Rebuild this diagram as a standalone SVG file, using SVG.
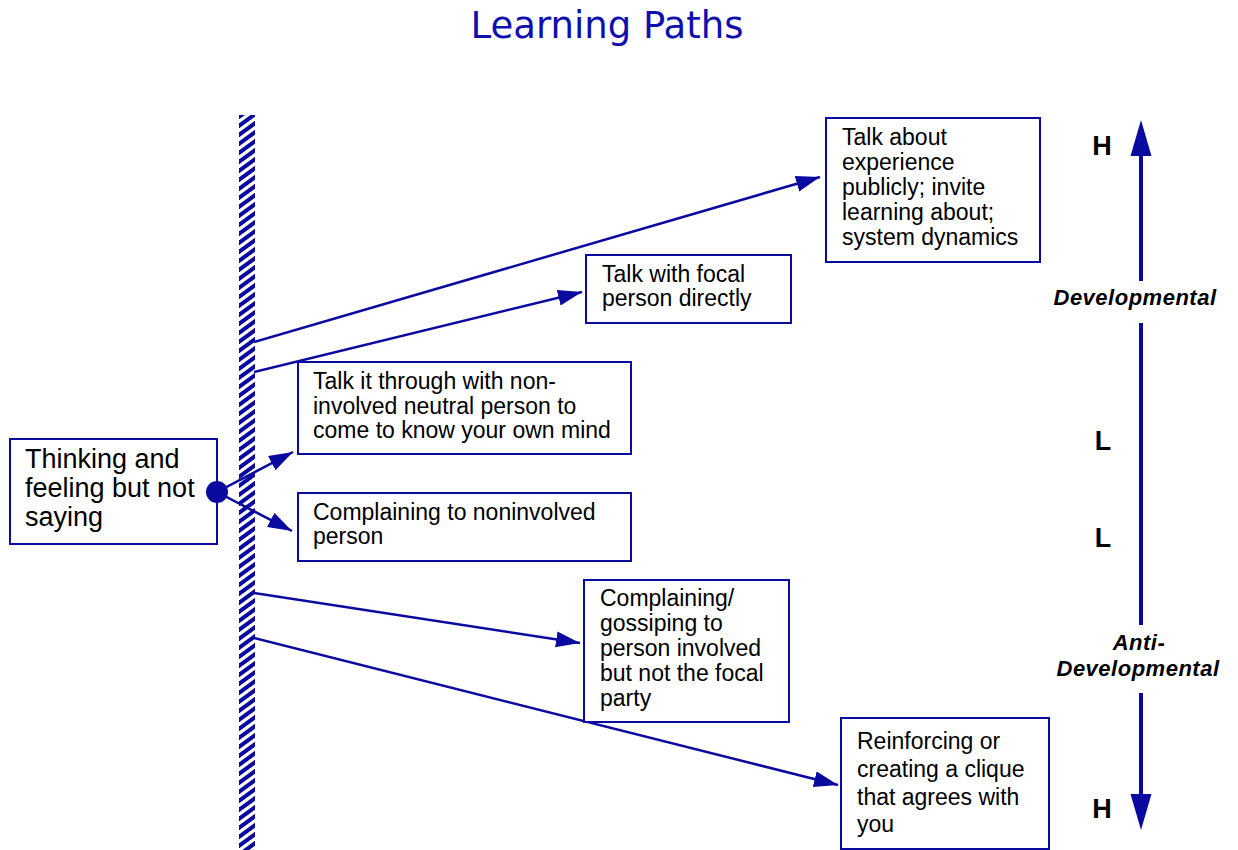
<svg xmlns="http://www.w3.org/2000/svg" width="1238" height="850" viewBox="0 0 1238 850">
<style>
.box{fill:#fff;stroke:#0a0aa0;stroke-width:2}
.t{font-family:"Liberation Sans",Arial,sans-serif;font-size:23px;fill:#000}
.big{font-family:"Liberation Sans",Arial,sans-serif;font-size:27px;fill:#000}
.lbl{font-family:"Liberation Sans",Arial,sans-serif;font-size:22px;font-weight:bold;font-style:italic;fill:#000;text-anchor:middle;letter-spacing:0.5px}
.hl{font-family:"Liberation Sans",Arial,sans-serif;font-size:27px;font-weight:bold;fill:#000;text-anchor:middle}
.conn line{stroke:#0a0aa0;stroke-width:2.5;marker-end:url(#ah)}
.axis{stroke:#0a0aa0;stroke-width:4}
</style>
<defs>
<marker id="ah" markerUnits="userSpaceOnUse" markerWidth="26" markerHeight="18" refX="24" refY="8" orient="auto">
<path d="M0,0 L24,8 L0,16 z" fill="#0a0aa0"/>
</marker>
<pattern id="hatch" patternUnits="userSpaceOnUse" width="20" height="9" patternTransform="skewY(-36)">
<rect x="0" y="0" width="20" height="5" fill="#0a0aa0"/>
</pattern>
</defs>
<rect width="1238" height="850" fill="#fff"/>
<text x="607" y="38" text-anchor="middle" font-family="'DejaVu Sans',sans-serif" font-size="37" fill="#0f0fb0">Learning Paths</text>

<g id="barrier"><rect x="239" y="115" width="16" height="735" fill="url(#hatch)"/></g>

<g id="connectors" class="conn">
<line x1="254" y1="342" x2="820" y2="177"/>
<line x1="254" y1="372" x2="582" y2="292"/>
<line x1="217" y1="492" x2="293" y2="452"/>
<line x1="217" y1="492" x2="292" y2="531"/>
<line x1="254" y1="593" x2="580" y2="643"/>
<line x1="254" y1="638" x2="838" y2="785"/>
</g>

<g id="n-thinking">
<rect class="box" x="10" y="439" width="207" height="105"/>
<text class="big" x="25" y="468">Thinking and</text>
<text class="big" x="25" y="497">feeling but not</text>
<text class="big" x="25" y="526">saying</text>
<circle cx="217" cy="492" r="11" fill="#0a0aa0"/>
</g>

<g id="n-public">
<rect class="box" x="826" y="118" width="214" height="144"/>
<text class="t" x="842" y="145">Talk about</text>
<text class="t" x="842" y="170">experience</text>
<text class="t" x="842" y="195">publicly; invite</text>
<text class="t" x="842" y="220">learning about;</text>
<text class="t" x="842" y="245">system dynamics</text>
</g>

<g id="n-focal">
<rect class="box" x="586" y="255" width="205" height="68"/>
<text class="t" x="602" y="282">Talk with focal</text>
<text class="t" x="602" y="306">person directly</text>
</g>

<g id="n-neutral">
<rect class="box" x="298" y="362" width="333" height="92"/>
<text class="t" x="313" y="389">Talk it through with non-</text>
<text class="t" x="313" y="414">involved neutral person to</text>
<text class="t" x="313" y="438">come to know your own mind</text>
</g>

<g id="n-complain">
<rect class="box" x="298" y="493" width="333" height="68"/>
<text class="t" x="313" y="520">Complaining to noninvolved</text>
<text class="t" x="313" y="544">person</text>
</g>

<g id="n-gossip">
<rect class="box" x="584" y="580" width="205" height="142"/>
<text class="t" x="600" y="606">Complaining/</text>
<text class="t" x="600" y="631">gossiping to</text>
<text class="t" x="600" y="656">person involved</text>
<text class="t" x="600" y="681">but not the focal</text>
<text class="t" x="600" y="706">party</text>
</g>

<g id="n-clique">
<rect class="box" x="841" y="718" width="208" height="131"/>
<text class="t" x="857" y="749">Reinforcing or</text>
<text class="t" x="857" y="777">creating a clique</text>
<text class="t" x="857" y="805">that agrees with</text>
<text class="t" x="857" y="832">you</text>
</g>

<g id="axis">
<line class="axis" x1="1141" y1="154" x2="1141" y2="281"/>
<path d="M1141,120 L1151.5,156 L1130.5,156 z" fill="#0a0aa0"/>
<line class="axis" x1="1141" y1="323" x2="1141" y2="625"/>
<line class="axis" x1="1141" y1="693" x2="1141" y2="796"/>
<path d="M1141,830 L1151.5,794 L1130.5,794 z" fill="#0a0aa0"/>
<text class="lbl" x="1135" y="305">Developmental</text>
<text class="lbl" x="1139" y="650">Anti-</text>
<text class="lbl" x="1138" y="676">Developmental</text>
<text class="hl" x="1102" y="155">H</text>
<text class="hl" x="1103" y="450">L</text>
<text class="hl" x="1103" y="547">L</text>
<text class="hl" x="1102" y="818">H</text>
</g>
</svg>
